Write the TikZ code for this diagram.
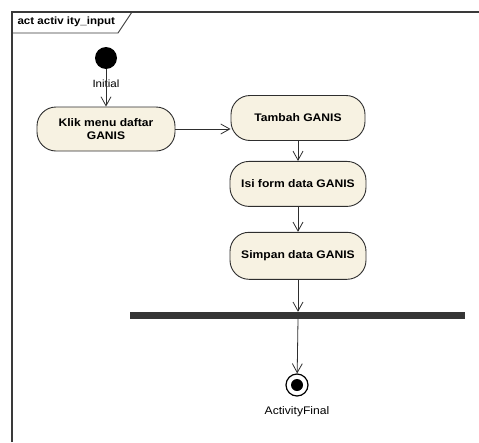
\documentclass[tikz,border=0pt]{standalone}
\usepackage{fontspec}
\setmainfont{Liberation Sans}
\newfontfamily\umlfont[FakeStretch=1.1]{Liberation Sans}
\usetikzlibrary{positioning,arrows.meta}
\definecolor{umlcream}{HTML}{F7F2E2}
\definecolor{umlline}{HTML}{2E2E2E}
\definecolor{umlframe}{HTML}{3A3A3A}
\definecolor{umlbar}{HTML}{353535}

\begin{document}
\begin{tikzpicture}[x=1pt,y=-1pt,
  act/.style={draw=umlline,fill=umlcream,rounded corners=19pt,minimum height=45pt,minimum width=136pt,align=center,font=\umlfont\fontsize{11}{13}\selectfont\bfseries,line width=0.9pt},
  lbl/.style={font=\umlfont\fontsize{10.5}{12}\selectfont,inner sep=1pt},
  arr/.style={-{Straight Barb[length=9pt,width=10pt]},umlline,line width=0.8pt}
]
\useasboundingbox (0,0) rectangle (479,442);
% frame and its tab
\draw[umlframe,line width=2pt] (12,442) -- (12,12) -- (479,12);
\draw[umlframe,line width=0.9pt] (12,33) -- (118,33) -- (132,12);
\node[font=\umlfont\fontsize{10.5}{12}\selectfont\bfseries,anchor=west] (title) at (14,22) {act activ ity\_input};
% start
\node[circle,fill=black,minimum size=22pt,inner sep=0pt] (init) at (106,58) {};
\node[lbl] (initlbl) at (106,84) {Initial};
% actions
\node[act,minimum width=138pt,minimum height=44pt] (klik) at (106,129) {Klik menu daftar\\GANIS};
\node[act,minimum width=134pt] (tambah) at (298,118) {Tambah GANIS};
\node[act,below=20pt of tambah] (isi) {Isi form data GANIS};
\node[act,below=25pt of isi,minimum height=47pt] (simpan) {Simpan data GANIS};
% join bar
\node[fill=umlbar,minimum width=335pt,minimum height=7pt,inner sep=0pt] (join) at (297.5,315.5) {};
% end
\node[circle,draw=black,fill=white,line width=1.2pt,minimum size=22pt,inner sep=0pt] (final) at (297,385) {};
\fill (final) circle (6pt);
\node[lbl,font=\umlfont\fontsize{11}{13}\selectfont] (finallbl) at (297,412) {ActivityFinal};
% flows
\draw[arr] (init) -- (klik);
\draw[arr] (klik.east) -- (klik.east -| tambah.west);
\draw[arr] (tambah) -- (isi);
\draw[arr] (isi) -- (simpan);
\draw[arr] (simpan.south) -- (simpan.south |- join.north);
\draw[arr] (simpan.south |- join.south) -- (final);
\end{tikzpicture}
\end{document}
